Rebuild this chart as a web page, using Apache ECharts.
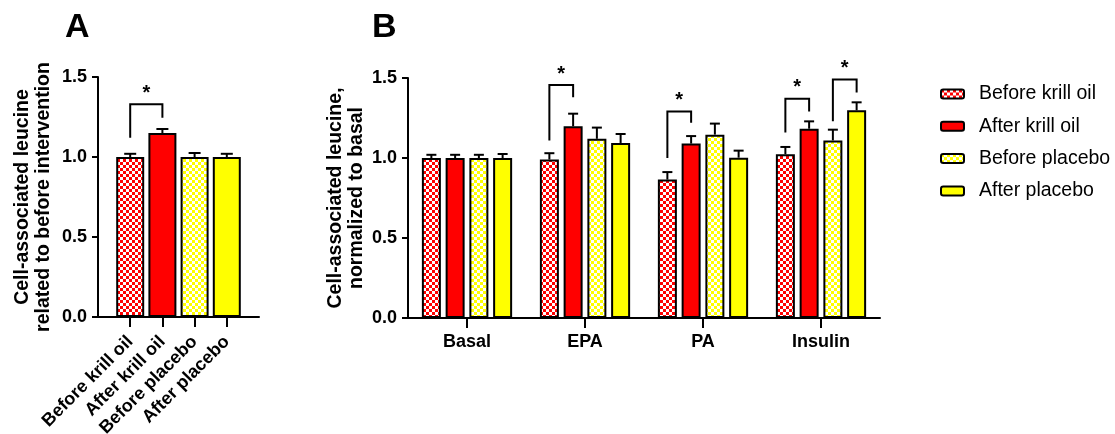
<!DOCTYPE html>
<html>
<head>
<meta charset="utf-8">
<script src="https://cdn.jsdelivr.net/npm/echarts@6/dist/echarts.min.js"></script>
<style>
  html, body { margin: 0; padding: 0; background: #fff; }
  #main { width: 1115px; height: 434px; }
</style>
</head>
<body>
<div id="main"></div>
<script>
// panel A data
const categoriesA = ['Before krill oil', 'After krill oil', 'Before placebo', 'After placebo'];
const valuesA = [1.0, 1.15, 1.0, 1.0];
const errorsA = [0.02, 0.025, 0.025, 0.02];
// bracket A: [left idx, right idx, left bottom, top, right bottom]
const bracketsA = [[0, 1, 1.12, 1.33, 1.245]];

// panel B data
const groupsB = ['Basal', 'EPA', 'PA', 'Insulin'];
const seriesNames = ['Before krill oil', 'After krill oil', 'Before placebo', 'After placebo'];
const beforeKrill = [1.0, 0.99, 0.865, 1.023];
const afterKrill = [1.0, 1.198, 1.09, 1.183];
const beforePlacebo = [1.0, 1.12, 1.146, 1.11];
const afterPlacebo = [1.0, 1.094, 1.002, 1.298];
const errBeforeKrill = [0.02, 0.04, 0.047, 0.046];
const errAfterKrill = [0.02, 0.079, 0.047, 0.046];
const errBeforePlacebo = [0.02, 0.07, 0.069, 0.067];
const errAfterPlacebo = [0.025, 0.056, 0.044, 0.05];
// brackets B: [group, left series, right series, left bottom, top, right bottom]
const bracketsB = [
  [1, 0, 1, 1.11, 1.456, 1.38],
  [2, 0, 1, 1.0, 1.29, 1.22],
  [3, 0, 1, 1.16, 1.37, 1.29],
  [3, 2, 3, 1.23, 1.49, 1.41]
];

const FONT = '"Liberation Sans", Arial, sans-serif';

// checker pattern
function checker(c) {
  const cv = document.createElement('canvas');
  cv.width = 6; cv.height = 6;
  const ctx = cv.getContext('2d');
  ctx.fillStyle = '#fff';
  ctx.fillRect(0, 0, 6, 6);
  ctx.fillStyle = c;
  ctx.fillRect(0, 0, 3, 3);
  ctx.fillRect(3, 3, 3, 3);
  return { image: cv, repeat: 'repeat' };
}
const fills = [checker('#ff0000'), '#ff0000', checker('#ffff00'), '#ffff00'];

const BW_B = 19, GAP_B = 0.25;
const BW_A = 28;

const chart = echarts.init(document.getElementById('main'));

const yAxisBase = {
  type: 'value', min: 0, max: 1.5, interval: 0.5,
  nameLocation: 'middle',
  nameTextStyle: { fontFamily: FONT, fontWeight: 'bold', fontSize: 19.5, color: '#000', lineHeight: 21 },
  axisLine: { show: true, onZero: false, lineStyle: { color: '#000', width: 2 } },
  axisTick: { show: true, length: 6, lineStyle: { color: '#000', width: 2 } },
  axisLabel: { fontFamily: FONT, fontWeight: 'bold', fontSize: 18, color: '#000', margin: 11,
    formatter: v => v.toFixed(1) },
  splitLine: { show: false }
};

function errRender(getX, half) {
  return function (params, api) {
    const x = getX(api);
    const v = api.value(2), e = api.value(3);
    const p0 = api.coord([api.value(0), v]);
    const p1 = api.coord([api.value(0), v + e]);
    const cx = p0[0] + x;
    const style = { stroke: '#000', lineWidth: 2, fill: null };
    return {
      type: 'group', children: [
        { type: 'line', shape: { x1: cx, y1: p0[1], x2: cx, y2: p1[1] }, style },
        { type: 'line', shape: { x1: cx - half, y1: p1[1], x2: cx + half, y2: p1[1] }, style }
      ]
    };
  };
}

function bracketRender(offsetOf) {
  return function (params, api) {
    const g = api.value(0);
    const xl = api.coord([g, 0])[0] + offsetOf(api.value(1));
    const xr = api.coord([g, 0])[0] + offsetOf(api.value(2));
    const yl = api.coord([g, api.value(3)])[1];
    const yt = api.coord([g, api.value(4)])[1];
    const yr = api.coord([g, api.value(5)])[1];
    return {
      type: 'group', children: [
        { type: 'polyline', shape: { points: [[xl, yl], [xl, yt], [xr, yt], [xr, yr]] },
          style: { stroke: '#000', lineWidth: 2, fill: null } },
        { type: 'text', x: (xl + xr) / 2, y: yt - 1,
          style: { text: '*', fontFamily: FONT, fontWeight: 'bold', fontSize: 20, fill: '#000',
            align: 'center', verticalAlign: 'bottom' } }
      ]
    };
  };
}

const offB = s => (s - 1.5) * BW_B * (1 + GAP_B);
const barB = [beforeKrill, afterKrill, beforePlacebo, afterPlacebo];
const errB = [errBeforeKrill, errAfterKrill, errBeforePlacebo, errAfterPlacebo];

const errDataB = [];
barB.forEach((arr, s) => arr.forEach((v, g) => errDataB.push([g, s, v, errB[s][g]])));

const titleStyle = { fontFamily: FONT, fontWeight: 'bold', fontSize: 34, color: '#000' };

const option = {
  animation: false,
  title: [
    { text: 'A', left: 60, top: 6, textStyle: titleStyle },
    { text: 'B', left: 367, top: 6, textStyle: titleStyle }
  ],
  legend: {
    data: seriesNames,
    left: 935, top: 79, orient: 'vertical',
    itemWidth: 23, itemHeight: 9, itemGap: 12.3,
    textStyle: { fontFamily: FONT, fontSize: 19.5, color: '#000', padding: [0, 0, 0, 10] },
    itemStyle: { borderColor: '#000', borderWidth: 2 }
  },
  grid: [
    { left: 98, top: 77, width: 161, height: 240, outerBoundsMode: 'none', containLabel: false },
    { left: 408, top: 78, width: 472, height: 240, outerBoundsMode: 'none', containLabel: false }
  ],
  xAxis: [
    {
      gridIndex: 0, type: 'value', min: -1, max: 4,
      axisLine: { show: true, onZero: false, lineStyle: { color: '#000', width: 2 } },
      axisTick: { show: true, length: 10, customValues: [0, 1, 2, 3], lineStyle: { color: '#000', width: 2 } },
      axisLabel: { customValues: [0, 1, 2, 3], rotate: 45, margin: 22, fontFamily: FONT, fontWeight: 'bold',
        fontSize: 18, color: '#000', formatter: v => categoriesA[v] || '' },
      splitLine: { show: false }
    },
    {
      gridIndex: 1, type: 'category', data: groupsB,
      axisLine: { show: true, lineStyle: { color: '#000', width: 2 } },
      axisTick: { show: true, alignWithLabel: true, length: 10, lineStyle: { color: '#000', width: 2 } },
      axisLabel: { margin: 15, fontFamily: FONT, fontWeight: 'bold', fontSize: 18, color: '#000' }
    }
  ],
  yAxis: [
    Object.assign({}, yAxisBase, { gridIndex: 0, name: 'Cell-associated leucine\nrelated to before intervention', nameGap: 44 }),
    Object.assign({}, yAxisBase, { gridIndex: 1, name: 'Cell-associated leucine,\nnormalized to basal', nameGap: 41 })
  ],
  series: [
    ...seriesNames.map((n, s) => ({
      name: n, type: 'bar', xAxisIndex: 1, yAxisIndex: 1,
      barWidth: BW_B, barGap: (GAP_B * 100) + '%',
      data: barB[s],
      itemStyle: { color: fills[s], borderColor: '#000', borderWidth: 2 }
    })),
    {
      type: 'bar', xAxisIndex: 0, yAxisIndex: 0, barWidth: BW_A,
      data: valuesA.map((v, i) => ({ value: [i, v], itemStyle: { color: fills[i] } })),
      itemStyle: { borderColor: '#000', borderWidth: 2 }
    },
    {
      type: 'custom', xAxisIndex: 0, yAxisIndex: 0, z: 3,
      data: valuesA.map((v, i) => [i, i, v, errorsA[i]]),
      encode: { x: 0, y: 2 },
      renderItem: errRender(() => 0, 6)
    },
    {
      type: 'custom', xAxisIndex: 1, yAxisIndex: 1, z: 3,
      data: errDataB,
      encode: { x: 0, y: 2 },
      renderItem: errRender(api => offB(api.value(1)), 5)
    },
    {
      type: 'custom', xAxisIndex: 0, yAxisIndex: 0, z: 3,
      data: bracketsA.map(b => [0, b[0], b[1], b[2], b[3], b[4]]),
      encode: { x: 0, y: 4 },
      // value axis in A: bar index is its own x value
      renderItem: bracketRender(i => i * (chart.convertToPixel({ xAxisIndex: 0 }, 1) - chart.convertToPixel({ xAxisIndex: 0 }, 0)))
    },
    {
      type: 'custom', xAxisIndex: 1, yAxisIndex: 1, z: 3,
      data: bracketsB,
      encode: { x: 0, y: 4 },
      renderItem: bracketRender(offB)
    }
  ]
};
chart.setOption(option);
</script>
</body>
</html>
